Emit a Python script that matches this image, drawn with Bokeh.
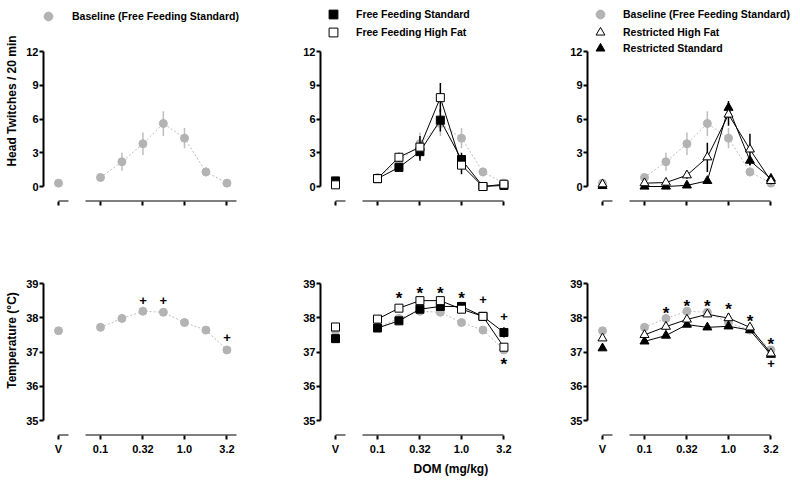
import math
import numpy as np
from bokeh.plotting import figure
from bokeh.models import Range1d, LogAxis, LinearAxis, FixedTicker, Legend, LegendItem, Title
from bokeh.layouts import column, row
from bokeh.embed import file_html
from bokeh.resources import INLINE
from bokeh.core.properties import value

# ---------------- data ----------------
V_DOSE = 10 ** -1.5          # where the vehicle ("V") point sits on the dose axis
doses = [0.1, 0.18, 0.32, 0.56, 1.0, 1.8, 3.2]
tick_doses = [0.1, 0.32, 1.0, 3.2]
tick_labels = ["0.1", "0.32", "1.0", "3.2"]
v_label = "V"

# Head twitches / 20 min  (V value, V error, dose values, dose errors)
ht_base_v, ht_base_v_err = 0.3, 0.1
ht_base = [0.8, 2.2, 3.8, 5.6, 4.3, 1.3, 0.3]
ht_base_err = [0.2, 0.8, 1.0, 1.1, 0.9, 0.4, 0.1]

ht_ffs_v, ht_ffs_v_err = 0.5, 0.1
ht_ffs = [0.7, 1.7, 3.1, 5.9, 2.4, 0.0, 0.1]
ht_ffs_err = [0.2, 0.3, 0.8, 1.0, 0.6, 0.0, 0.1]

ht_ffhf_v, ht_ffhf_v_err = 0.15, 0.1
ht_ffhf = [0.7, 2.6, 3.5, 7.9, 1.9, 0.0, 0.2]
ht_ffhf_err = [0.3, 0.4, 1.0, 1.3, 0.8, 0.0, 0.1]

ht_rhf_v, ht_rhf_v_err = 0.2, 0.1
ht_rhf = [0.3, 0.35, 1.0, 2.6, 6.4, 3.3, 0.5]
ht_rhf_err = [0.2, 0.2, 0.3, 1.3, 1.0, 1.4, 0.3]

ht_rs_v, ht_rs_v_err = 0.05, 0.05
ht_rs = [0.0, 0.0, 0.1, 0.5, 7.0, 2.3, 0.7]
ht_rs_err = [0.0, 0.0, 0.1, 0.2, 0.6, 0.4, 0.3]

# Temperature (°C)
tp_base_v, tp_base_v_err = 37.62, 0.08
tp_base = [37.72, 37.98, 38.19, 38.16, 37.86, 37.64, 37.06]
tp_base_err = [0.06, 0.06, 0.06, 0.06, 0.06, 0.08, 0.08]

tp_ffs_v, tp_ffs_v_err = 37.39, 0.08
tp_ffs = [37.70, 37.91, 38.25, 38.33, 38.33, 38.04, 37.57]
tp_ffs_err = [0.10, 0.08, 0.08, 0.08, 0.10, 0.10, 0.15]

tp_ffhf_v, tp_ffhf_v_err = 37.73, 0.08
tp_ffhf = [37.96, 38.28, 38.50, 38.50, 38.25, 38.04, 37.14]
tp_ffhf_err = [0.12, 0.08, 0.08, 0.08, 0.10, 0.10, 0.10]

tp_rhf_v, tp_rhf_v_err = 37.40, 0.08
tp_rhf = [37.50, 37.74, 37.95, 38.10, 37.99, 37.72, 36.96]
tp_rhf_err = [0.10, 0.10, 0.08, 0.08, 0.15, 0.08, 0.08]

tp_rs_v, tp_rs_v_err = 37.11, 0.06
tp_rs = [37.31, 37.48, 37.80, 37.72, 37.75, 37.64, 36.92]
tp_rs_err = [0.06, 0.06, 0.06, 0.06, 0.06, 0.06, 0.06]

# significance marks (dose, level, symbol)
sig_base_doses = [0.32, 0.56, 3.2]
sig_base_y = [38.50, 38.50, 37.42]
sig_base_sym = ["+", "+", "+"]

sig_ff_doses = [0.18, 0.32, 0.56, 1.0, 1.8, 3.2, 3.2]
sig_ff_y = [38.71, 38.85, 38.85, 38.71, 38.53, 38.04, 36.78]
sig_ff_sym = ["*", "*", "*", "*", "+", "+", "*"]

sig_r_doses = [0.18, 0.32, 0.56, 1.0, 1.8, 3.2, 3.2]
sig_r_y = [38.27, 38.47, 38.47, 38.39, 38.04, 37.36, 36.66]
sig_r_sym = ["*", "*", "*", "*", "*", "*", "+"]

lbl_base = "Baseline (Free Feeding Standard)"
lbl_ffs = "Free Feeding Standard"
lbl_ffhf = "Free Feeding High Fat"
lbl_rhf = "Restricted High Fat"
lbl_rs = "Restricted Standard"

# ---------------- styling / layout ----------------
FONT_NAME = "Liberation Sans"
FONT = value(FONT_NAME)
GRAY = "#b3b3b3"
GRAY_LINE = "#bdbdbd"
PX_PER_DEC = 84.0
X_START = 10 ** (-1 - 57 / PX_PER_DEC)
AX_START = 10 ** (-1 - 15 / PX_PER_DEC)
V_END = V_DOSE * 10 ** (10 / PX_PER_DEC)


def style_axis(ax):
    ax.axis_line_width = 2
    ax.axis_line_color = "black"
    ax.major_tick_line_width = 2
    ax.major_tick_out = 4
    ax.major_tick_in = 0
    ax.minor_tick_out = 0
    ax.minor_tick_in = 0
    ax.major_label_text_font = FONT_NAME
    ax.major_label_text_font_style = "bold"
    ax.major_label_text_font_size = "11px"
    ax.major_label_text_color = "black"
    ax.axis_label_text_font = FONT_NAME
    ax.axis_label_text_font_style = "bold"
    ax.axis_label_text_font_size = "12px"
    ax.axis_label_text_color = "black"


def make_fig(top, frame_w, frame_h, y0, y1, ybounds, yticks, bl, br, bt, bb, axis_end,
             ylabel=None):
    x_end = 10 ** (math.log10(X_START) + frame_w / PX_PER_DEC)
    p = figure(frame_width=frame_w, frame_height=frame_h,
               x_axis_type="log", x_axis_location=None, y_axis_location=None,
               x_range=Range1d(X_START, x_end), y_range=Range1d(y0, y1),
               output_backend="svg", toolbar_location=None,
               min_border_left=bl, min_border_right=br,
               min_border_top=bt, min_border_bottom=bb)
    p.outline_line_color = None
    p.background_fill_color = "white"
    p.border_fill_color = "white"
    p.xgrid.visible = False
    p.ygrid.visible = False

    ya = LinearAxis(ticker=FixedTicker(ticks=yticks, minor_ticks=[]), bounds=ybounds)
    style_axis(ya)
    ya.major_label_standoff = 1
    if ylabel:
        ya.axis_label = ylabel
        ya.axis_label_standoff = 4
    p.add_layout(ya, "left")

    # ticks and labels of the dose axis (V + doses); its own line is hidden
    all_ticks = [V_DOSE] + tick_doses
    all_labels = [v_label] + tick_labels
    if top:
        all_labels = [""] * len(all_labels)
    xa = LogAxis(ticker=FixedTicker(ticks=all_ticks, minor_ticks=[]),
                 bounds=(V_DOSE * 0.999, axis_end),
                 major_label_overrides=dict(zip(all_ticks, all_labels)))
    style_axis(xa)
    xa.axis_line_color = None
    xa.major_label_standoff = 3
    p.add_layout(xa, "below")

    # broken axis line: short bracket under V, and the main dose line
    for lo, hi in ((V_DOSE, V_END), (AX_START, axis_end)):
        la = LogAxis(ticker=FixedTicker(ticks=[], minor_ticks=[]),
                     bounds=(lo, hi), fixed_location=y0)
        style_axis(la)
        la.major_tick_out = 0
        p.add_layout(la, "below")
    return p


def series(p, vy, vy_err, ys, errs, marker, fill, edge, line_color, dash, err_color, size):
    xs = [V_DOSE] + doses
    yall = np.array([vy] + ys)
    eall = np.array([vy_err] + errs)
    p.segment(x0=xs, y0=yall - eall, x1=xs, y1=yall + eall,
              line_color=err_color, line_width=1.5)
    p.line(doses, ys, line_color=line_color, line_width=1, line_dash=dash)
    return p.scatter(xs, yall, marker=marker, size=size, fill_color=fill,
                     line_color=edge, line_width=1)


def gray_series(p, vy, vy_err, ys, errs):
    return series(p, vy, vy_err, ys, errs, "circle", GRAY, GRAY, GRAY_LINE, "2 2", GRAY_LINE, 8)


def add_legend(p, label, rend, x, y, standoff):
    lg = Legend(items=[LegendItem(label=label, renderers=[rend])],
                location=(x, y), orientation="vertical",
                glyph_width=22, glyph_height=22, label_height=22,
                label_standoff=standoff, spacing=0, padding=0, margin=0,
                border_line_color=None, background_fill_alpha=0,
                label_text_font=FONT_NAME, label_text_font_style="bold",
                label_text_font_size="10.5px", label_text_color="black")
    p.add_layout(lg, "center")


def add_sig(p, xs, ys, syms):
    for s, off, fs in (("*", 5, "17px"), ("+", 0, "13px")):
        sx = [x for x, q in zip(xs, syms) if q == s]
        sy = [y for y, q in zip(ys, syms) if q == s]
        if sx:
            p.text(x=sx, y=sy, text=[s] * len(sx), text_font=FONT, text_font_style="bold",
                   text_font_size=fs, text_align="center", text_baseline="middle",
                   y_offset=off, text_color="black")


FW = 200        # frame width of columns 1 and 2
FW3 = 210       # column 3 is a little wider so its legend fits
TOP_H = 201
T_PX = 11.25
T_Y0, T_Y1 = -15 / T_PX, 12 + 51 / T_PX
BOT_H = 190
B_PX = 34.25
B_Y0, B_Y1 = 35 - 15 / B_PX, 39 + 38 / B_PX
ht_ticks = [0, 3, 6, 9, 12]
tp_ticks = [35, 36, 37, 38, 39]
END1 = 10 ** (-1 + 136 / PX_PER_DEC)
LEG_Y = lambda center: TOP_H - center - 12

# ---- top row: head twitches ----
f1 = make_fig(True, FW, TOP_H, T_Y0, T_Y1, (0, 12), ht_ticks, 43, 47, 0, 14, END1,
              ylabel="Head Twitches / 20 min")
r = gray_series(f1, ht_base_v, ht_base_v_err, ht_base, ht_base_err)
add_legend(f1, lbl_base, r, -6, LEG_Y(15), 13)

f2 = make_fig(True, FW, TOP_H, T_Y0, T_Y1, (0, 12), ht_ticks, 30, 37, 0, 14, 3.2)
gray_series(f2, ht_base_v, ht_base_v_err, ht_base, ht_base_err)
r1 = series(f2, ht_ffs_v, ht_ffs_v_err, ht_ffs, ht_ffs_err, "square", "black", "black", "black", "solid", "black", 8)
r2 = series(f2, ht_ffhf_v, ht_ffhf_v_err, ht_ffhf, ht_ffhf_err, "square", "white", "black", "black", "solid", "black", 8)
add_legend(f2, lbl_ffs, r1, 2, LEG_Y(13), 12)
add_legend(f2, lbl_ffhf, r2, 2, LEG_Y(31), 12)

f3 = make_fig(True, FW3, TOP_H, T_Y0, T_Y1, (0, 12), ht_ticks, 30, 3, 0, 14, 3.2)
r0 = gray_series(f3, ht_base_v, ht_base_v_err, ht_base, ht_base_err)
r2 = series(f3, ht_rs_v, ht_rs_v_err, ht_rs, ht_rs_err, "triangle", "black", "black", "black", "solid", "black", 9)
r1 = series(f3, ht_rhf_v, ht_rhf_v_err, ht_rhf, ht_rhf_err, "triangle", "white", "black", "black", "solid", "black", 9)
add_legend(f3, lbl_base, r0, 2, LEG_Y(13), 12)
add_legend(f3, lbl_rhf, r1, 2, LEG_Y(31), 12)
add_legend(f3, lbl_rs, r2, 2, LEG_Y(47), 12)

# ---- bottom row: temperature ----
f4 = make_fig(False, FW, BOT_H, B_Y0, B_Y1, (35, 39), tp_ticks, 43, 47, 30, 20, END1,
              ylabel="Temperature (°C)")
gray_series(f4, tp_base_v, tp_base_v_err, tp_base, tp_base_err)
add_sig(f4, sig_base_doses, sig_base_y, sig_base_sym)

f5 = make_fig(False, FW, BOT_H, B_Y0, B_Y1, (35, 39), tp_ticks, 30, 37, 30, 20, 3.2)
f5.add_layout(Title(text="DOM (mg/kg)", align="left", offset=93, standoff=5,
                    text_font=FONT_NAME, text_font_style="bold",
                    text_font_size="12px", text_color="black"), "below")
gray_series(f5, tp_base_v, tp_base_v_err, tp_base, tp_base_err)
series(f5, tp_ffs_v, tp_ffs_v_err, tp_ffs, tp_ffs_err, "square", "black", "black", "black", "solid", "black", 8)
series(f5, tp_ffhf_v, tp_ffhf_v_err, tp_ffhf, tp_ffhf_err, "square", "white", "black", "black", "solid", "black", 8)
add_sig(f5, sig_ff_doses, sig_ff_y, sig_ff_sym)

f6 = make_fig(False, FW3, BOT_H, B_Y0, B_Y1, (35, 39), tp_ticks, 30, 3, 30, 20, 3.2)
gray_series(f6, tp_base_v, tp_base_v_err, tp_base, tp_base_err)
series(f6, tp_rs_v, tp_rs_v_err, tp_rs, tp_rs_err, "triangle", "black", "black", "black", "solid", "black", 9)
series(f6, tp_rhf_v, tp_rhf_v_err, tp_rhf, tp_rhf_err, "triangle", "white", "black", "black", "solid", "black", 9)
add_sig(f6, sig_r_doses, sig_r_y, sig_r_sym)

layout = column(row(f1, f2, f3), row(f4, f5, f6))
open("out.html", "w").write(file_html(layout, INLINE))
